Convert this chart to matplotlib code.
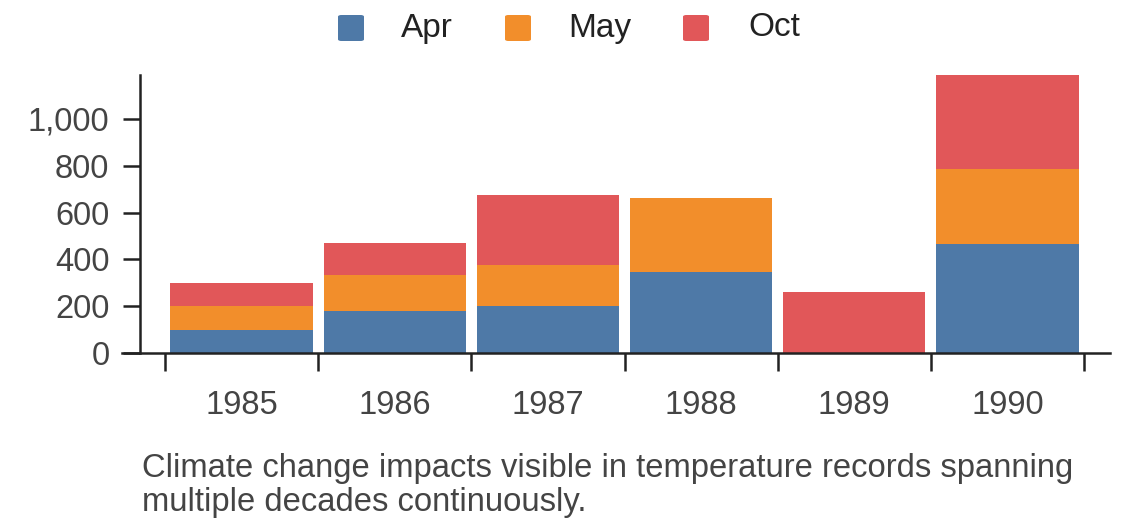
import matplotlib
matplotlib.use("Agg")
import matplotlib.pyplot as plt
from matplotlib.patches import FancyBboxPatch
from matplotlib.ticker import FuncFormatter
import numpy as np

years = ["1985", "1986", "1987", "1988", "1989", "1990"]
series_names = ["Apr", "May", "Oct"]
apr = [100, 180, 200, 348, 0, 464]
may = [100, 153, 177, 315, 0, 323]
oct_ = [100, 136, 300, 0, 262, 401]
colors = ["#4e79a7", "#f28e2b", "#e15759"]
yticks = [0, 200, 400, 600, 800, 1000]
caption = ("Climate change impacts visible in temperature records spanning\n"
           "multiple decades continuously.")

plt.rcParams['font.family'] = ['Liberation Sans', 'DejaVu Sans']

W, H = 1140, 528
fig = plt.figure(figsize=(W / 100, H / 100), dpi=100)

# axes in pixel layout
left_px, right_px, top_px, bottom_px = 122, 1110, 75, 353
ax = fig.add_axes([left_px / W, 1 - bottom_px / H,
                   (right_px - left_px) / W, (bottom_px - top_px) / H])

unit = (1084 - 165) / 6.0
x = np.arange(len(years))
bottom = np.zeros(len(years))
for vals, c, name in zip([apr, may, oct_], colors, series_names):
    ax.bar(x, vals, width=0.93, bottom=bottom, color=c, edgecolor='none', label=name)
    bottom += np.array(vals)

ymax = bottom.max()
ax.set_ylim(0, ymax)
ax.set_xlim(-0.5 - (165 - left_px) / unit, 5.5 + (right_px - 1084) / unit)

for s in ['top', 'right']:
    ax.spines[s].set_visible(False)
ax.spines['left'].set_position(('data', -0.5 - (165 - 140) / unit))
ax.spines['left'].set_bounds(0, ymax)
for s in ['left', 'bottom']:
    ax.spines[s].set_color('#222222')
    ax.spines[s].set_linewidth(1.8)

ax.set_yticks(yticks)
ax.yaxis.set_major_formatter(FuncFormatter(lambda v, p: f"{int(v):,}"))
ax.tick_params(axis='y', length=12, width=1.8, color='#222222', pad=10,
               labelsize=23.5, labelcolor='#444444')

ax.set_xticks(np.arange(-0.5, len(years), 1.0))
ax.set_xticklabels([])
ax.set_xticks(x, minor=True)
ax.set_xticklabels(years, minor=True)
ax.tick_params(axis='x', which='major', length=13, width=1.8, color='#222222')
ax.tick_params(axis='x', which='minor', length=0, pad=27,
               labelsize=23.5, labelcolor='#444444')

# legend
leg_items = [(338, 401), (505, 568), (683, 748)]
sq = 26
for (sx, tx), c, name in zip(leg_items, colors, series_names):
    p = FancyBboxPatch((sx / W, 1 - 41 / H), sq / W, sq / H,
                       boxstyle="round,pad=0,rounding_size=0.003",
                       transform=fig.transFigure, facecolor=c, edgecolor='none')
    fig.patches.append(p)
    fig.text(tx / W, 1 - 28 / H, name, fontsize=24, color='#222222',
             va='center', ha='left')

fig.text(142 / W, 1 - 511.5 / H, caption, fontsize=23.6, color='#444444',
         va='baseline', ha='left', linespacing=1.13)

fig.savefig("out.png", dpi=100)
